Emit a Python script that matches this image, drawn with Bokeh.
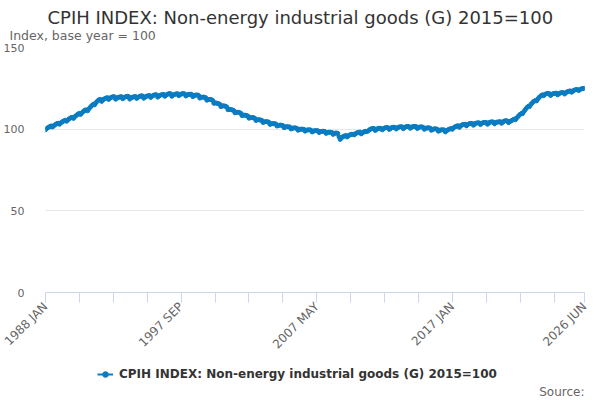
import numpy as np
import pandas as pd
from bokeh.plotting import figure
from bokeh.layouts import column
from bokeh.models import (ColumnDataSource, FixedTicker, Label, Legend,
                          LegendItem, Range1d, Title)
from bokeh.embed import file_html
from bokeh.resources import INLINE

title_text = "CPIH INDEX: Non-energy industrial goods (G) 2015=100"
y_label = "Index, base year = 100"
source_text = "Source:"

first_month = "1988-01"
# monthly index, one row per year (Jan..Dec)
cpih_neig = [
    99.6, 100.4, 100.9, 101.3, 101.7, 102.0, 101.3, 102.0, 102.6, 103.1, 103.5, 103.6,  # 1988
    103.0, 103.8, 104.3, 104.8, 105.2, 105.5, 104.8, 105.6, 106.2, 106.7, 107.1, 107.2,  # 1989
    106.6, 107.6, 108.2, 108.8, 109.3, 109.7, 109.0, 109.9, 110.6, 111.2, 111.7, 111.8,  # 1990
    111.2, 112.3, 113.2, 114.0, 114.7, 115.3, 114.9, 116.0, 116.9, 117.6, 118.1, 118.2,  # 1991
    117.0, 117.9, 118.4, 118.8, 119.1, 119.3, 118.2, 118.9, 119.4, 119.7, 119.9, 119.8,  # 1992
    118.3, 119.0, 119.4, 119.6, 119.8, 119.9, 118.6, 119.2, 119.7, 119.9, 120.1, 120.0,  # 1993
    118.4, 119.1, 119.5, 119.7, 119.9, 120.0, 118.8, 119.4, 119.9, 120.2, 120.4, 120.3,  # 1994
    118.9, 119.6, 120.0, 120.3, 120.5, 120.6, 119.4, 120.1, 120.6, 120.9, 121.1, 121.0,  # 1995
    119.6, 120.3, 120.7, 121.0, 121.2, 121.3, 120.1, 120.8, 121.3, 121.6, 121.8, 121.7,  # 1996
    120.1, 120.8, 121.2, 121.4, 121.6, 121.7, 120.5, 121.1, 121.5, 121.7, 121.8, 121.6,  # 1997
    120.3, 120.9, 121.2, 121.3, 121.4, 121.3, 119.9, 120.5, 120.8, 120.9, 120.9, 120.6,  # 1998
    119.0, 119.5, 119.6, 119.6, 119.5, 119.3, 117.7, 118.1, 118.2, 118.2, 118.0, 117.6,  # 1999
    115.8, 116.1, 116.0, 115.8, 115.6, 115.3, 113.8, 114.2, 114.3, 114.2, 114.0, 113.6,  # 2000
    111.9, 112.2, 112.1, 111.9, 111.7, 111.4, 110.0, 110.3, 110.4, 110.3, 110.1, 109.8,  # 2001
    108.3, 108.6, 108.6, 108.5, 108.3, 108.1, 106.7, 107.0, 107.1, 107.1, 107.0, 106.7,  # 2002
    105.3, 105.7, 105.8, 105.7, 105.6, 105.4, 104.1, 104.4, 104.6, 104.6, 104.5, 104.3,  # 2003
    102.9, 103.3, 103.4, 103.4, 103.3, 103.2, 101.9, 102.3, 102.4, 102.5, 102.4, 102.2,  # 2004
    100.9, 101.3, 101.5, 101.5, 101.4, 101.3, 100.1, 100.5, 100.7, 100.8, 100.7, 100.5,  # 2005
    99.3, 99.8, 100.0, 100.0, 100.0, 99.9, 98.8, 99.3, 99.5, 99.6, 99.6, 99.4,  # 2006
    98.3, 98.8, 99.0, 99.1, 99.1, 99.0, 97.9, 98.4, 98.6, 98.7, 98.7, 98.5,  # 2007
    97.4, 97.9, 98.1, 98.1, 98.1, 98.0, 96.8, 97.3, 97.6, 97.6, 97.4, 95.3,  # 2008
    93.7, 94.6, 95.2, 95.6, 95.9, 96.1, 95.2, 95.9, 96.4, 96.7, 96.9, 96.9,  # 2009
    96.5, 97.2, 97.6, 97.9, 98.1, 98.2, 97.1, 97.7, 98.2, 98.5, 98.7, 98.6,  # 2010
    98.9, 99.6, 100.0, 100.3, 100.4, 100.4, 99.2, 99.8, 100.3, 100.5, 100.6, 100.4,  # 2011
    99.6, 100.3, 100.7, 100.9, 101.0, 100.9, 99.8, 100.4, 100.9, 101.1, 101.2, 101.0,  # 2012
    100.1, 100.8, 101.2, 101.4, 101.5, 101.4, 100.3, 100.9, 101.4, 101.6, 101.7, 101.5,  # 2013
    100.5, 101.2, 101.5, 101.7, 101.7, 101.6, 100.4, 100.9, 101.3, 101.4, 101.4, 101.1,  # 2014
    99.9, 100.5, 100.7, 100.8, 100.8, 100.6, 99.3, 99.8, 100.1, 100.2, 100.2, 99.9,  # 2015
    98.7, 99.3, 99.5, 99.6, 99.6, 99.5, 98.3, 99.0, 99.5, 99.9, 100.2, 100.4,  # 2016
    99.9, 100.8, 101.3, 101.7, 102.0, 102.1, 101.1, 101.9, 102.5, 102.8, 103.0, 103.0,  # 2017
    102.0, 102.8, 103.2, 103.4, 103.5, 103.5, 102.4, 103.1, 103.6, 103.8, 103.9, 103.8,  # 2018
    102.8, 103.5, 103.9, 104.1, 104.2, 104.1, 103.0, 103.7, 104.2, 104.4, 104.5, 104.3,  # 2019
    103.3, 104.0, 104.3, 104.4, 104.5, 104.6, 103.6, 104.2, 104.8, 105.1, 105.2, 105.0,  # 2020
    104.0, 104.6, 105.0, 105.4, 105.8, 106.2, 105.8, 106.8, 107.6, 108.4, 109.1, 109.6,  # 2021
    109.5, 110.6, 111.6, 112.6, 113.4, 114.0, 113.9, 115.0, 115.8, 116.6, 117.2, 117.5,  # 2022
    117.3, 118.4, 119.3, 120.0, 120.6, 121.0, 120.5, 121.2, 121.6, 121.8, 121.9, 121.7,  # 2023
    120.6, 121.3, 121.7, 121.9, 122.0, 122.0, 121.0, 121.6, 122.1, 122.3, 122.4, 122.3,  # 2024
    121.5, 122.3, 122.8, 123.1, 123.3, 123.4, 122.6, 123.3, 123.8, 124.1, 124.3, 124.2,  # 2025
    123.6, 124.2, 124.6, 124.8, 124.9, 125.0,  # 2026
]
y_ticks = [0, 50, 100, 150]
tick_labels = ["1988 JAN", "1997 SEP", "2007 MAY", "2017 JAN", "2026 JUN"]
tick_every = 29

blue = "#0a7cc2"
font = "DejaVu Sans"

months = pd.period_range(first_month, periods=len(cpih_neig), freq="M")
month_names = [m.strftime("%Y %b").upper() for m in months]
x = np.arange(len(cpih_neig))
src = ColumnDataSource(dict(x=x, y=cpih_neig, month=month_names))

p = figure(width=590, height=359, output_backend="svg", toolbar_location=None,
           x_range=Range1d(0, len(x) - 1), y_range=Range1d(0, 150),
           min_border_left=38, min_border_right=6, min_border_top=47,
           min_border_bottom=67, outline_line_color=None)

# titles (first added sits closest to the plot)
p.add_layout(Title(text=y_label, align="left", offset=-36, standoff=10,
                   text_font=font, text_font_size="12.5px",
                   text_font_style="normal", text_color="#666666"), "above")
p.add_layout(Title(text=title_text, align="left", offset=2, standoff=-15,
                   text_font=font, text_font_size="18px",
                   text_font_style="normal", text_color="#333333"), "above")

p.yaxis.ticker = FixedTicker(ticks=y_ticks)
p.yaxis.axis_line_color = None
p.yaxis.major_tick_line_color = None
p.yaxis.minor_tick_line_color = None
p.yaxis.major_label_text_color = "#666666"
p.yaxis.major_label_text_font = font
p.yaxis.major_label_text_font_size = "11px"
p.yaxis.major_label_standoff = 15
p.ygrid.grid_line_color = "#e6e6e6"
p.xgrid.grid_line_color = None

tick_pos = list(range(0, len(x) - 1, tick_every)) + [len(x) - 1]
p.xaxis.ticker = FixedTicker(ticks=tick_pos)
p.xaxis.major_label_overrides = {
    i: (month_names[i] if month_names[i] in tick_labels else "") for i in tick_pos}
p.xaxis.major_label_orientation = np.pi / 4
p.xaxis.axis_line_color = "#ccd6eb"
p.xaxis.major_tick_line_color = "#ccd6eb"
p.xaxis.minor_tick_line_color = None
p.xaxis.major_tick_in = 0
p.xaxis.major_tick_out = 10
p.xaxis.major_label_text_color = "#666666"
p.xaxis.major_label_text_font = font
p.xaxis.major_label_text_font_size = "12px"
p.xaxis.major_label_standoff = 2

p.line("x", "y", source=src, line_color=blue, line_width=2)
p.scatter("x", "y", source=src, size=4, fill_color=blue, line_color=blue)

# footer strip without axes; the column aligns its frame with the chart's,
# so its x range runs in page pixels over that span. The series drawn here
# falls outside the y range and only serves as the legend key.
foot = figure(width=590, height=41, output_backend="svg", toolbar_location=None,
              x_range=Range1d(46, 584), y_range=Range1d(0, 41), min_border=0,
              x_axis_location=None, y_axis_location=None,
              outline_line_color=None)
foot.grid.visible = False
key_line = foot.line("x", "y", source=src, line_color=blue, line_width=2)
key_dot = foot.scatter("x", "y", source=src, size=4, fill_color=blue,
                       line_color=blue)
legend = Legend(items=[LegendItem(label=title_text, renderers=[key_line, key_dot])],
                location=(52, 19), orientation="horizontal",
                border_line_color=None, background_fill_alpha=0,
                label_text_font=font, label_text_font_size="12px",
                label_text_font_style="bold", label_text_color="#333333",
                label_height=14, glyph_height=14, glyph_width=16,
                label_standoff=6, margin=0, padding=3)
foot.add_layout(legend, "center")
foot.add_layout(Label(x=584, y=9, text=source_text, text_align="right",
                      text_baseline="middle", text_font=font,
                      text_font_size="12px", text_color="#666666"))

layout = column(p, foot, spacing=0)
open("out.html", "w").write(file_html(layout, INLINE))
